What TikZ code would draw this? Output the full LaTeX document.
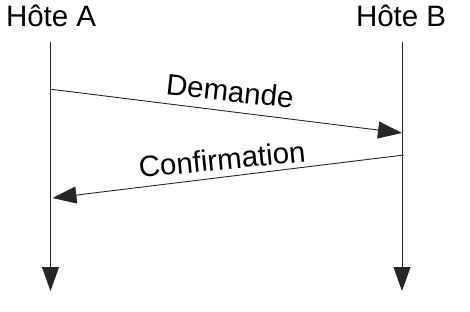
\documentclass[tikz,border=0pt]{standalone}
\usepackage{fontspec}
\setmainfont{Liberation Sans}
\usetikzlibrary{arrows.meta,calc}
\begin{document}
\begin{tikzpicture}[x=1pt,y=-1pt,
  lbl/.style={font=\fontsize{29.5}{32}\selectfont, inner sep=0pt, anchor=base},
  host/.style={lbl, anchor=base west},
  lifeline/.style={draw=black!85, line width=0.9pt, -{Triangle[length=24pt,width=17pt]}},
  msg/.style={draw=black!85, line width=0.9pt, -{Triangle[length=24pt,width=17pt]}}]
  \useasboundingbox (0,0) rectangle (470,311);
  % hosts
  \node[host] (hA) at (5.8,26.6) {Hôte A};
  \node[host] (hB) at (355.8,26.6) {Hôte B};
  % lifelines
  \coordinate (aTop) at (50.5,42);
  \coordinate (aEnd) at (50.5,291);
  \coordinate (bTop) at (402,42);
  \coordinate (bEnd) at (402,291);
  \draw[lifeline] (aTop) -- (aEnd);
  \draw[lifeline] (bTop) -- (bEnd);
  % messages
  \coordinate (reqFrom) at (51.5,89.3);
  \coordinate (reqTo) at (402,133);
  \coordinate (ackFrom) at (404,155);
  \coordinate (ackTo) at (52.5,198);
  \draw[msg] (reqFrom) -- (reqTo);
  \draw[msg] (ackFrom) -- (ackTo);
  \node[lbl, rotate=-6.2] (req) at ($(reqFrom)!0.506!(reqTo)+(0,-10)$) {Demande};
  \node[lbl, rotate=5.5] (ack) at ($(ackFrom)!0.515!(ackTo)+(0,-7.5)$) {Confirmation};
\end{tikzpicture}
\end{document}
